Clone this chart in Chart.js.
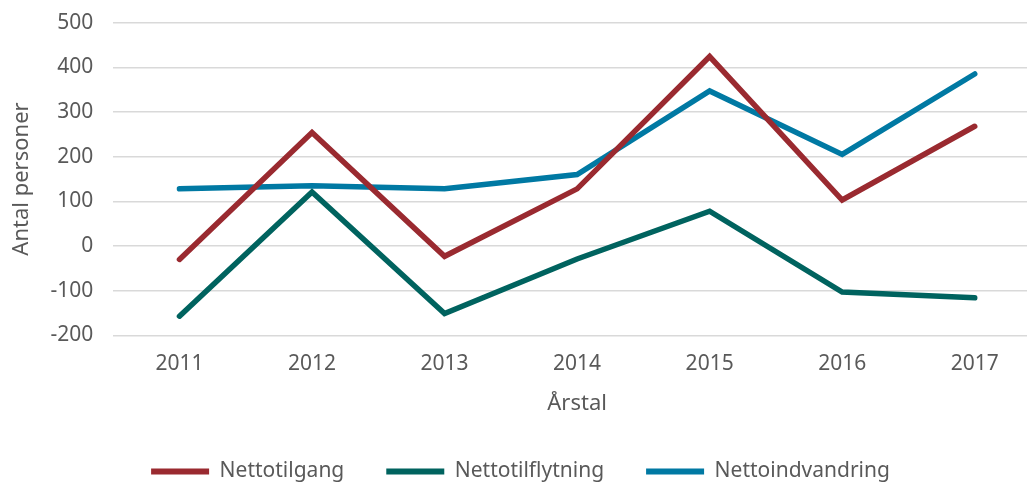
<!DOCTYPE html>
<html>
<head>
<meta charset="utf-8">
<script src="https://cdn.jsdelivr.net/npm/chart.js@4"></script>
<style>
    html, body { margin: 0; padding: 0; background: #fff; overflow: hidden; }
    #wrap { width: 1045px; height: 495px; margin-top: -10px; }
</style>
</head>
<body>
<div id="wrap"><canvas id="myChart"></canvas></div>
<script>
const years = ['2011', '2012', '2013', '2014', '2015', '2016', '2017']
const nettotilgang = [-30, 254, -23, 128, 424, 103, 268]
const nettotilflytning = [-157, 121, -151, -29, 78, -103, -116]
const nettoindvandring = [128, 135, 128, 160, 347, 205, 385]
const yTicks = [-200, -100, 0, 100, 200, 300, 400, 500]

const gray = '#595959'
const fontFamily = "'Noto Sans', sans-serif"

function makeSet(label, values, color) {
    return {
        label: label,
        data: values,
        borderColor: color,
        backgroundColor: color,
        borderWidth: 5.5,
        pointRadius: 0,
        tension: 0,
        borderCapStyle: 'round',
        borderJoinStyle: 'miter'
    }
}

const data = {
    labels: years,
    datasets: [
        makeSet('Nettotilgang', nettotilgang, '#9a2a30'),
        makeSet('Nettotilflytning', nettotilflytning, '#00635f'),
        makeSet('Nettoindvandring', nettoindvandring, '#0079a3')
    ]
}

const config = {
    type: 'line',
    data: data,
    options: {
        responsive: true,
        maintainAspectRatio: false,
        animation: false,
        layout: { padding: { left: 0, right: 4, top: 1, bottom: -7 } },
        scales: {
            x: {
                offset: true,
                grid: { display: false, drawTicks: false },
                border: { display: false },
                ticks: { color: gray, font: { family: fontFamily, size: 21 }, padding: 16 },
                title: {
                    display: true, text: 'Årstal', color: gray,
                    font: { family: fontFamily, size: 22 }, padding: { top: -2, bottom: 2 }
                }
            },
            y: {
                min: -200,
                max: 500,
                afterBuildTicks: (axis) => { axis.ticks = yTicks.map(v => ({ value: v })) },
                grid: { color: '#d9d9d9', lineWidth: 1.5, drawTicks: false },
                border: { display: false },
                ticks: { color: gray, font: { family: fontFamily, size: 21 }, padding: 20 },
                title: {
                    display: true, text: 'Antal personer', color: gray,
                    font: { family: fontFamily, size: 22 }, padding: { top: 9, bottom: -5 }
                }
            }
        },
        plugins: {
            tooltip: { enabled: false },
            legend: {
                position: 'bottom',
                labels: {
                    color: gray,
                    font: { family: fontFamily, size: 21 },
                    boxWidth: 58,
                    boxHeight: 6,
                    padding: 42,
                    useBorderRadius: true,
                    borderRadius: 3,
                    generateLabels: (chart) => chart.data.datasets.map((ds, i) => ({
                        text: ds.label,
                        fillStyle: ds.borderColor,
                        strokeStyle: ds.borderColor,
                        lineWidth: 0,
                        fontColor: gray,
                        datasetIndex: i,
                        hidden: false
                    }))
                }
            }
        }
    }
}

const myChart = new Chart(document.getElementById('myChart'), config)
</script>
</body>
</html>
